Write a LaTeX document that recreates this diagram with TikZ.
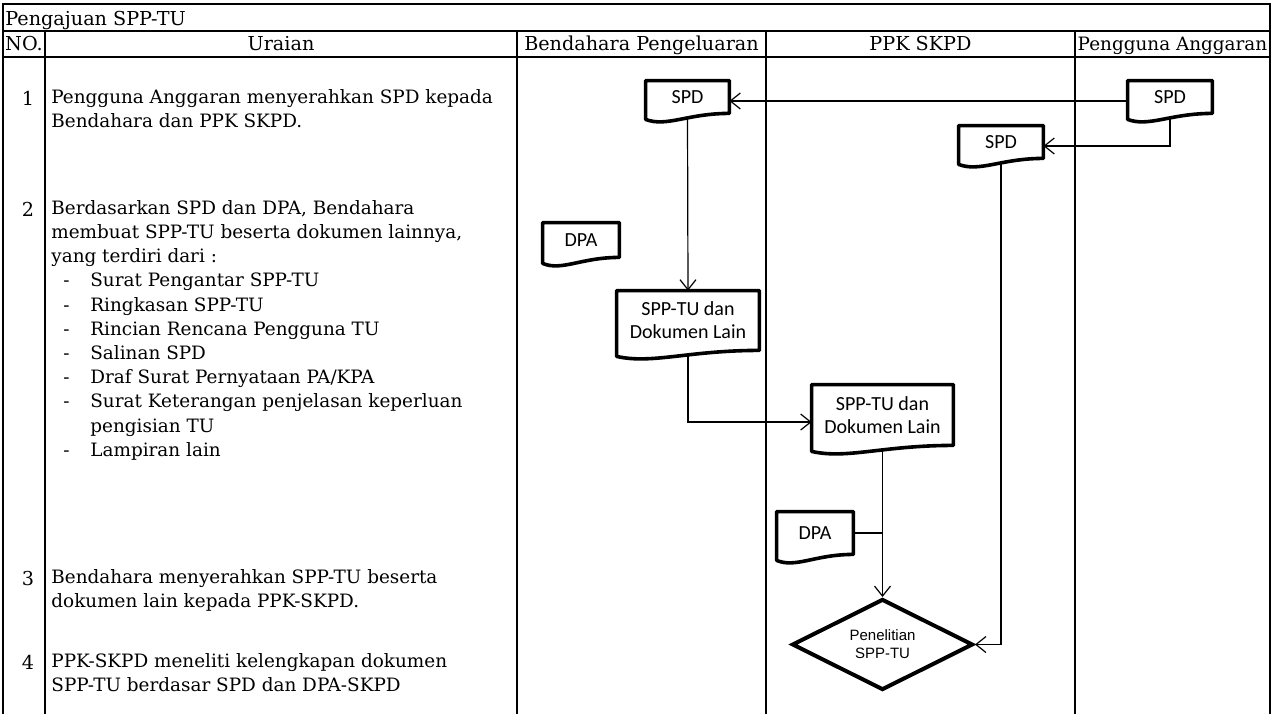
\documentclass[tikz,border=0pt]{standalone}
\usepackage{fontspec}
\setmainfont{DejaVu Serif}
\newfontfamily\docfont{Carlito}
\newfontfamily\decfont{Liberation Sans}
\usetikzlibrary{arrows.meta,calc,shapes.geometric}
\newcommand{\dashitem}[1]{\hspace*{6pt}\makebox[13.5pt][l]{-}#1}
\begin{document}
\begin{tikzpicture}[x=0.5pt,y=-0.5pt,>={Straight Barb[length=5pt,width=8pt]},
frame/.style={line width=1pt},
link/.style={line width=0.6pt},
docline/.style={line width=1.8pt,line join=round},
hd/.style={font=\fontsize{9.6}{12}\selectfont,inner sep=0pt,anchor=base},
txt/.style={font=\fontsize{9.2}{12.1}\selectfont,inner sep=0pt,align=left,anchor=north west,execute at begin node={\rule{0pt}{8pt}}},
doc/.style={font=\docfont\fontsize{10}{11.5}\selectfont,align=center,inner sep=1pt},
dec/.style={diamond,draw,line width=2pt,aspect=2,inner sep=0pt,minimum width=90.5pt,minimum height=45.5pt,font=\decfont\fontsize{7.5}{9}\selectfont,align=center}]
\useasboundingbox (0,0) rectangle (1274,714);
\draw[frame] (3,714) -- (3,4) -- (1270,4) -- (1270,714);
\draw[frame] (3,31) -- (1270,31) (3,57) -- (1270,57);
\foreach \x in {45,517,766,1075}{\draw[frame] (\x,31) -- (\x,714);}
\node[hd,anchor=base west] (title) at (5,25) {Pengajuan SPP-TU};
\node[hd] (hno) at (24,50) {NO.};
\node[hd] (hur) at (281,50) {Uraian};
\node[hd] (hbp) at (641.5,50) {Bendahara Pengeluaran};
\node[hd] (hppk) at (920.5,50) {PPK SKPD};
\node[hd,font=\fontsize{9.2}{12}\selectfont] (hpa) at (1172.5,50) {Pengguna Anggaran};
\foreach \n/\y in {1/105,2/216,3/585,4/669}{\node[hd] (no\n) at (28,\y) {\n};}
\node[txt] (t1) at (51,89) {Pengguna Anggaran menyerahkan SPD kepada\\Bendahara dan PPK SKPD.};
\node[txt] (t2) at (51,200) {Berdasarkan SPD dan DPA, Bendahara\\membuat SPP-TU beserta dokumen lainnya,\\yang terdiri dari :\\\dashitem{Surat Pengantar SPP-TU}\\\dashitem{Ringkasan SPP-TU}\\\dashitem{Rincian Rencana Pengguna TU}\\\dashitem{Salinan SPD}\\\dashitem{Draf Surat Pernyataan PA/KPA}\\\dashitem{Surat Keterangan penjelasan keperluan}\\\hspace*{19.5pt}pengisian TU\\\dashitem{Lampiran lain}};
\node[txt] (t3) at (51,569) {Bendahara menyerahkan SPP-TU beserta\\dokumen lain kepada PPK-SKPD.};
\node[txt] (t4) at (51,653) {PPK-SKPD meneliti kelengkapan dokumen\\SPP-TU berdasar SPD dan DPA-SKPD};
\node[doc,minimum width=41.5pt,minimum height=16pt] (spdb) at (687.5,97) {SPD};
\node[doc,minimum width=42pt,minimum height=16pt] (spdpa) at (1170,97) {SPD};
\node[doc,minimum width=42pt,minimum height=16pt] (spdk) at (1001,142) {SPD};
\node[doc,minimum width=38pt,minimum height=17pt] (dpab) at (581,240) {DPA};
\node[doc,minimum width=71pt,minimum height=29.5pt] (sppb) at (688,320.5) {SPP-TU dan\\Dokumen Lain};
\node[doc,minimum width=70.5pt,minimum height=30pt] (sppk) at (882.5,415) {SPP-TU dan\\Dokumen Lain};
\node[doc,minimum width=38pt,minimum height=21pt] (dpak) at (815,533) {DPA};
\node[dec] (pen) at (882.5,644.5) {Penelitian\\SPP-TU};
\foreach \d in {spdb,spdpa,spdk,dpab,sppb,sppk,dpak}{\draw[docline] (\d.south east) .. controls ($(\d.south east)!0.5!(\d.south west)$) and ($(\d.south east)!0.75!(\d.south west)+(0,-7pt)$) .. ($(\d.south west)+(0,-3pt)$) -- (\d.north west) -- (\d.north east) -- cycle;}
\draw[link,->] ([yshift=-2pt]spdpa.west) -- ([yshift=-2pt]spdb.east);
\draw[link,->] ([yshift=-2.2pt]spdpa.south) |- ([yshift=-2pt]spdk.east);
\draw[link,->] ([yshift=-2.2pt]spdb.south) -- (sppb.north);
\draw[link,->] ([yshift=-2.2pt]sppb.south) |- ([yshift=-3.5pt]sppk.west);
\draw[link,->] ([yshift=-2.2pt]sppk.south) -- (pen.north);
\draw[link] (dpak.east) -- (dpak.east -| pen.north);
\draw[link,->] ([yshift=-2.2pt]spdk.south) |- (pen.east);
\end{tikzpicture}
\end{document}
